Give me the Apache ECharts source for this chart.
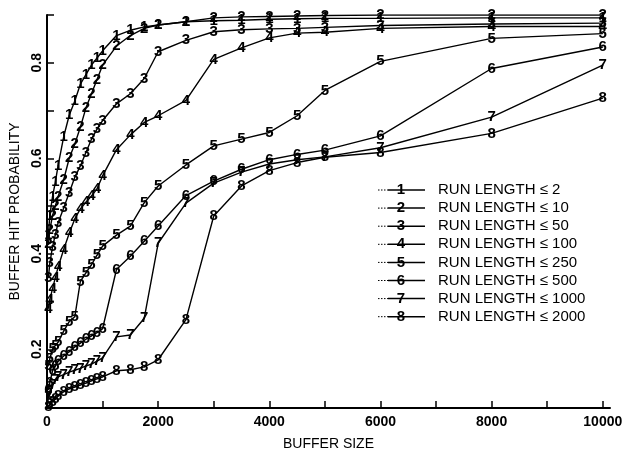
<!DOCTYPE html>
<html>
<head>
<meta charset="utf-8">
<script src="https://cdn.jsdelivr.net/npm/echarts@6/dist/echarts.min.js"></script>
<style>
  html, body { margin: 0; padding: 0; background: #fff; }
  #chart { width: 624px; height: 453px; }
</style>
</head>
<body>
<div id="chart"></div>
<script>
// Buffer sizes at which each hit probability was measured
const bufferSizes = [25, 50, 100, 150, 200, 300, 400, 500, 600, 700, 800, 900, 1000,
  1250, 1500, 1750, 2000, 2500, 3000, 3500, 4000, 4500, 5000, 6000, 8000, 10000];

// Legend entries, one per curve
const seriesNames = [
  'RUN LENGTH ≤ 2', 'RUN LENGTH ≤ 10', 'RUN LENGTH ≤ 50', 'RUN LENGTH ≤ 100',
  'RUN LENGTH ≤ 250', 'RUN LENGTH ≤ 500', 'RUN LENGTH ≤ 1000', 'RUN LENGTH ≤ 2000'
];

// Buffer hit probability per run-length class
const hitRun2 = [0.44, 0.48, 0.52, 0.55, 0.585, 0.645, 0.69, 0.72, 0.755, 0.775, 0.795, 0.81, 0.825,
  0.857, 0.868, 0.875, 0.879, 0.886, 0.888, 0.889, 0.891, 0.892, 0.893, 0.893, 0.894, 0.894];
const hitRun10 = [0.42, 0.45, 0.48, 0.50, 0.52, 0.555, 0.60, 0.63, 0.665, 0.705, 0.735, 0.765, 0.795,
  0.835, 0.857, 0.872, 0.879, 0.886, 0.894, 0.896, 0.897, 0.898, 0.899, 0.9, 0.9, 0.9];
const hitRun50 = [0.35, 0.38, 0.415, 0.44, 0.465, 0.496, 0.528, 0.56, 0.584, 0.612, 0.64, 0.661, 0.679,
  0.714, 0.735, 0.767, 0.823, 0.847, 0.865, 0.869, 0.871, 0.872, 0.874, 0.878, 0.881, 0.883];
const hitRun100 = [0.285, 0.304, 0.327, 0.35, 0.372, 0.409, 0.443, 0.473, 0.494, 0.508, 0.521, 0.536, 0.563,
  0.618, 0.649, 0.675, 0.689, 0.721, 0.807, 0.831, 0.852, 0.862, 0.864, 0.872, 0.876, 0.876];
const hitRun250 = [0.165, 0.18, 0.2, 0.208, 0.215, 0.238, 0.258, 0.268, 0.342, 0.36, 0.377, 0.397, 0.416,
  0.439, 0.458, 0.507, 0.542, 0.586, 0.626, 0.640, 0.654, 0.689, 0.742, 0.803, 0.851, 0.861];
const hitRun500 = [0.115, 0.13, 0.155, 0.165, 0.175, 0.186, 0.195, 0.205, 0.213, 0.221, 0.228, 0.235, 0.243,
  0.367, 0.395, 0.426, 0.458, 0.522, 0.552, 0.577, 0.597, 0.608, 0.617, 0.647, 0.788, 0.833];
const hitRun1000 = [0.1, 0.11, 0.125, 0.135, 0.142, 0.147, 0.152, 0.156, 0.16, 0.165, 0.169, 0.175, 0.182,
  0.226, 0.23, 0.265, 0.422, 0.506, 0.548, 0.571, 0.588, 0.597, 0.603, 0.622, 0.686, 0.795];
const hitRun2000 = [0.08, 0.085, 0.09, 0.096, 0.102, 0.111, 0.117, 0.121, 0.125, 0.129, 0.134, 0.138, 0.142,
  0.155, 0.157, 0.163, 0.178, 0.262, 0.479, 0.542, 0.574, 0.591, 0.602, 0.612, 0.652, 0.726];

const allHits = [hitRun2, hitRun10, hitRun50, hitRun100, hitRun250, hitRun500, hitRun1000, hitRun2000];

// Axis ticks and labels
const xTickValues = [0, 1000, 2000, 3000, 4000, 5000, 6000, 7000, 8000, 9000, 10000];
const xLabelValues = [0, 2000, 4000, 6000, 8000, 10000];
const yTickValues = [0.1, 0.2, 0.3, 0.4, 0.5, 0.6, 0.7, 0.8, 0.9];
const yLabelValues = [0.2, 0.4, 0.6, 0.8];

const FONT = '"Liberation Sans", Arial, Helvetica, sans-serif';
const INK = '#000';

const chart = echarts.init(document.getElementById('chart'), null, { renderer: 'canvas' });

const series = allHits.map((hits, i) => ({
  name: seriesNames[i],
  type: 'line',
  data: bufferSizes.map((x, k) => [x, hits[k]]),
  symbol: 'circle',
  symbolSize: 1,
  showSymbol: true,
  lineStyle: { color: INK, width: 1.4 },
  itemStyle: { color: INK },
  label: {
    show: true,
    position: 'inside',
    formatter: String(i + 1),
    color: INK,
    fontFamily: FONT,
    fontSize: 15,
    fontWeight: 'bold'
  },
  emphasis: { disabled: true },
  z: 2
}));

// Legend drawn as a key: short line crossed by the curve number, then its name
const legendLeft = 378, legendTop = 190, legendStep = 18.1;
const legendGraphics = [];
seriesNames.forEach((name, i) => {
  const y = legendTop + i * legendStep;
  legendGraphics.push({
    type: 'line', silent: true,
    shape: { x1: legendLeft, y1: y, x2: legendLeft + 10, y2: y },
    style: { stroke: INK, lineWidth: 1, lineDash: [1.5, 1.5] }
  });
  legendGraphics.push({
    type: 'line', silent: true,
    shape: { x1: legendLeft + 10, y1: y, x2: legendLeft + 47, y2: y },
    style: { stroke: INK, lineWidth: 1.5 }
  });
  legendGraphics.push({
    type: 'text', silent: true,
    x: legendLeft + 23, y: y,
    style: {
      text: String(i + 1), fill: INK, font: 'bold 15px ' + FONT,
      textAlign: 'center', textVerticalAlign: 'middle'
    }
  });
  legendGraphics.push({
    type: 'text', silent: true,
    x: legendLeft + 60, y: y,
    style: {
      text: name, fill: INK, font: '15px ' + FONT,
      textAlign: 'left', textVerticalAlign: 'middle'
    }
  });
});

chart.setOption({
  animation: false,
  backgroundColor: '#fff',
  grid: { left: 47, right: 14, top: 15, bottom: 45, containLabel: false, outerBoundsMode: 'none' },
  xAxis: {
    type: 'value',
    min: 0,
    max: 10130,
    name: 'BUFFER SIZE',
    nameLocation: 'middle',
    nameGap: 29,
    nameTextStyle: { color: INK, fontFamily: FONT, fontSize: 14 },
    axisLine: { show: true, lineStyle: { color: INK, width: 2 } },
    axisTick: { show: true, inside: true, length: 7, customValues: xTickValues, lineStyle: { color: INK, width: 1.5 } },
    axisLabel: {
      customValues: xLabelValues, color: INK, fontFamily: FONT, fontSize: 14, fontWeight: 'bold', margin: 7,
      formatter: v => String(v)
    },
    splitLine: { show: false }
  },
  yAxis: {
    type: 'value',
    min: 0.077,
    max: 0.9,
    name: 'BUFFER HIT PROBABILITY',
    nameLocation: 'middle',
    nameGap: 21,
    nameRotate: 90,
    nameTextStyle: { color: INK, fontFamily: FONT, fontSize: 14 },
    axisLine: { show: true, lineStyle: { color: INK, width: 2 } },
    axisTick: { show: true, inside: true, length: 7, customValues: yTickValues, lineStyle: { color: INK, width: 1.5 } },
    axisLabel: {
      customValues: yLabelValues, rotate: 90, color: INK, fontFamily: FONT, fontSize: 14, fontWeight: 'bold', margin: 3,
      formatter: v => v.toFixed(1)
    },
    splitLine: { show: false }
  },
  series: series,
  graphic: legendGraphics
});
</script>
</body>
</html>
